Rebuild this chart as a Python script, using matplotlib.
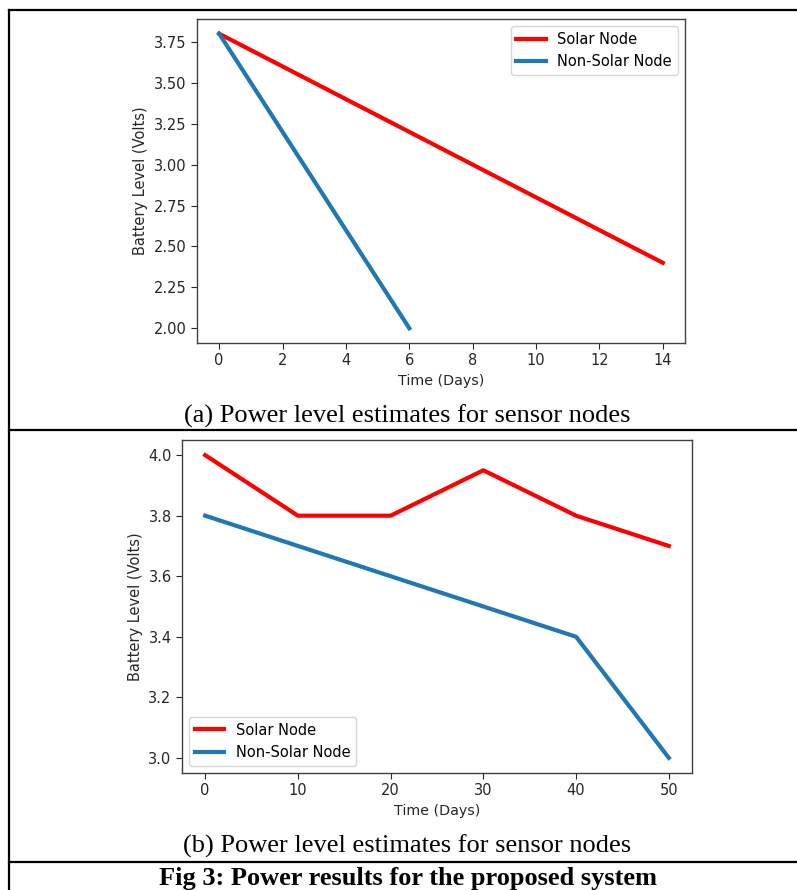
"""Battery level of solar vs non-solar sensor nodes (two panels in a table)."""
import matplotlib.pyplot as plt
from matplotlib.lines import Line2D

# panel (a)
days_a_solar = [0, 14]
volts_a_solar = [3.8, 2.4]
days_a_plain = [0, 6]
volts_a_plain = [3.8, 2.0]

# panel (b)
days_b = [0, 10, 20, 30, 40, 50]
volts_b_solar = [4.0, 3.8, 3.8, 3.95, 3.8, 3.7]
volts_b_plain = [3.8, 3.7, 3.6, 3.5, 3.4, 3.0]

labels = ['Solar Node', 'Non-Solar Node']
caption_a = '(a) Power level estimates for sensor nodes'
caption_b = '(b) Power level estimates for sensor nodes'
fig_caption = 'Fig 3: Power results for the proposed system'

W, H = 797, 890
fig = plt.figure(figsize=(W / 100, H / 100), dpi=100)


def px_axes(left, top, right, bottom):
    return fig.add_axes([left / W, 1 - bottom / H, (right - left) / W,
                         (bottom - top) / H])


def style(ax):
    for s in ax.spines.values():
        s.set_color('0.25')
        s.set_linewidth(1.0)
    ax.tick_params(labelsize=10.5, colors='0.15', length=4)
    ax.set_xlabel('Time (Days)', fontsize=10.3, color='0.15')
    ax.set_ylabel('Battery Level (Volts)', fontsize=10.5, color='0.15')


ax1 = px_axes(197, 19, 685, 343)
ax1.plot(days_a_solar, volts_a_solar, color='red', lw=3, label=labels[0])
ax1.plot(days_a_plain, volts_a_plain, color='#1f77b4', lw=3, label=labels[1])
ax1.set_xticks([0, 2, 4, 6, 8, 10, 12, 14])
ax1.set_yticks([2.0, 2.25, 2.5, 2.75, 3.0, 3.25, 3.5, 3.75])
style(ax1)
ax1.legend(loc='upper right', fontsize=10.5)

ax2 = px_axes(182, 440, 692, 773)
ax2.plot(days_b, volts_b_solar, color='red', lw=3, label=labels[0])
ax2.plot(days_b, volts_b_plain, color='#1f77b4', lw=3, label=labels[1])
ax2.set_yticks([3.0, 3.2, 3.4, 3.6, 3.8, 4.0])
style(ax2)
ax2.legend(loc='lower left', fontsize=10.5)

# captions
fig.text(407 / W, 1 - 416 / H, caption_a, family='Liberation Serif',
         fontsize=19, ha='center', va='center')
fig.text(407 / W, 1 - 846 / H, caption_b, family='Liberation Serif',
         fontsize=19, ha='center', va='center')
fig.text(408 / W, 1 - 879 / H, fig_caption, family='Liberation Serif',
         fontsize=19, weight='bold', ha='center', va='center')

# table borders
for y in [10, 430, 862]:
    fig.add_artist(Line2D([9 / W, 1], [1 - y / H, 1 - y / H], color='black',
                          lw=1.6, transform=fig.transFigure))
fig.add_artist(Line2D([9 / W, 9 / W], [0, 1 - 10 / H], color='black',
                      lw=1.6, transform=fig.transFigure))

fig.savefig('out.png', dpi=100)
